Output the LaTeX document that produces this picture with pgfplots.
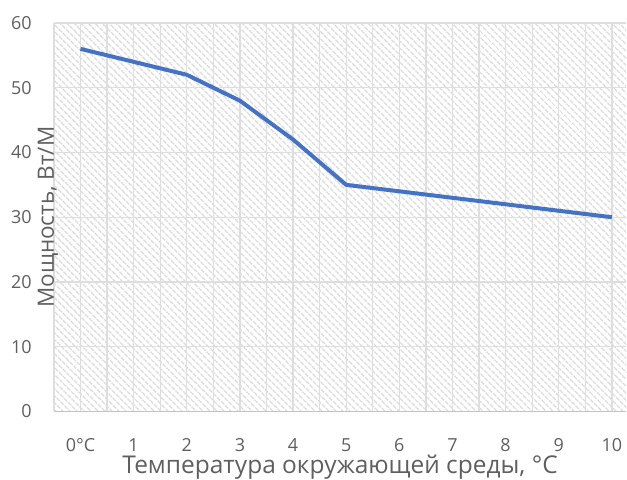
\documentclass[border=0pt]{standalone}
\usepackage{pgfplots}
\pgfplotsset{compat=1.18}
\usepackage{fontspec}
\setmainfont{Open Sans}
\usetikzlibrary{patterns.meta}
\definecolor{txt}{HTML}{5F5F5F}
\definecolor{grd}{HTML}{DEDEDE}
\definecolor{hatch}{HTML}{DCDCDC}
\definecolor{ln}{HTML}{4472C4}
\begin{document}
\begin{tikzpicture}
\begin{axis}[
  name=ax,
  scale only axis, width=573bp, height=389bp,
  xmin=-0.5, xmax=10.27, ymin=0, ymax=60,
  xtick={0,1,...,10},
  xticklabels={0°C,1,2,3,4,5,6,7,8,9,10},
  minor xtick={-0.5,0.5,...,9.5},
  ytick={0,10,...,60},
  /pgf/number format/assume math mode=true,
  grid=both,
  major grid style={draw=grd, line width=1.3bp},
  minor grid style={draw=grd, line width=1.3bp},
  axis x line*=bottom, axis y line*=left,
  x axis line style={draw=grd!88!black, line width=1.6bp, -},
  y axis line style={draw=grd, line width=1.3bp, -},
  major tick length=0pt, minor tick length=0pt,
  tick style={draw=none},
  axis background/.style={pattern={Lines[angle=-45,distance=5.2bp,line width=1.6bp]}, pattern color=hatch},
  ticklabel style={font=\fontsize{18bp}{20bp}\selectfont, text=txt},
  yticklabel style={anchor=east, inner sep=0pt, xshift=-22bp},
  xticklabel style={anchor=base, inner sep=0pt, yshift=-40bp},
  xlabel={Температура окружающей среды, °C},
  ylabel={Мощность, Вт/М},
  xlabel style={font=\fontsize{24.5bp}{26bp}\selectfont, text=txt, at={(axis description cs:0.5,0)}, anchor=base, inner sep=0pt, yshift=-62bp},
  ylabel style={font=\fontsize{22.5bp}{24bp}\selectfont, text=txt, at={(axis description cs:0,0.5)}, anchor=base, inner sep=0pt, rotate=0},
  clip=false,
]
\addplot[ln, line width=4bp, line join=round] coordinates {
  (0,56) (1,54) (2,52) (3,48) (4,42) (5,35) (6,34) (7,33) (8,32) (9,31) (10,30)
};
\end{axis}
\path ([shift={(-54bp,-68bp)}]ax.south west) rectangle ([shift={(0bp,23bp)}]ax.north east);
\end{tikzpicture}
\end{document}
